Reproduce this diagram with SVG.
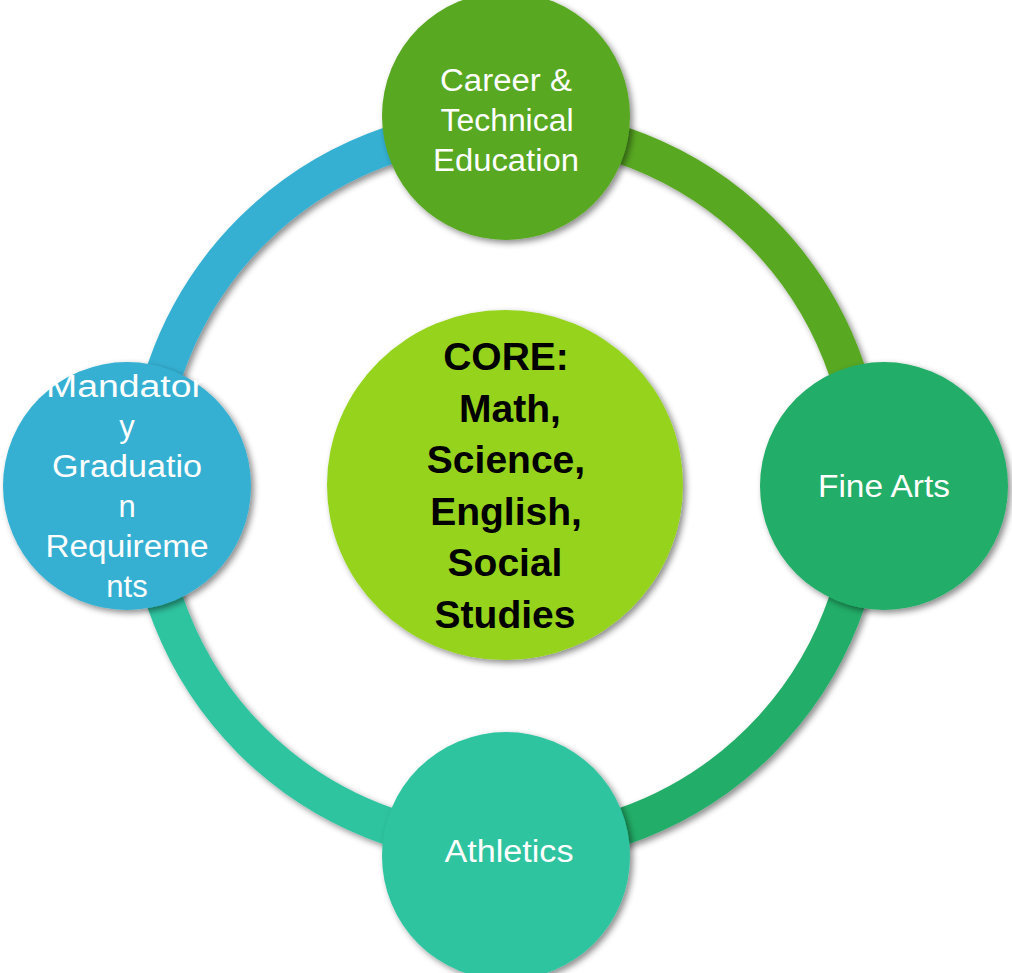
<svg xmlns="http://www.w3.org/2000/svg" width="1012" height="973" viewBox="0 0 1012 973">
<style>
.arc{fill:none;stroke-width:37;filter:url(#sh)}
.node{filter:url(#sh)}
.lbl{font-family:"Liberation Sans",Arial,sans-serif;font-size:31px;fill:#ffffff;text-anchor:middle}
.core{font-family:"Liberation Sans",Arial,sans-serif;font-size:39px;font-weight:bold;fill:#000000;text-anchor:middle}
</style>
<defs>
<filter id="sh" x="-20%" y="-20%" width="140%" height="140%">
<feDropShadow dx="3" dy="3" stdDeviation="3" flood-color="#000000" flood-opacity="0.45"/>
</filter>
</defs>
<rect width="1012" height="973" fill="#ffffff"/>
<g id="connectors">
<path class="arc" stroke="#59A823" d="M506 126 A360 360 0 0 1 866 486"/>
<path class="arc" stroke="#24AD68" d="M866 486 A360 360 0 0 1 506 846"/>
<path class="arc" stroke="#2EC4A0" d="M506 846 A360 360 0 0 1 146 486"/>
<path class="arc" stroke="#35B0D2" d="M146 486 A360 360 0 0 1 506 126"/>
</g>
<g id="node-core">
<ellipse class="node" cx="505" cy="485" rx="178" ry="175" fill="#95D31E"/>
<text class="core" x="506" y="370">CORE:</text>
<text class="core" x="510" y="421.5">Math,</text>
<text class="core" x="506" y="473">Science,</text>
<text class="core" x="506" y="524.5">English,</text>
<text class="core" x="505" y="576">Social</text>
<text class="core" x="505" y="627.5">Studies</text>
</g>
<g id="node-career">
<circle class="node" cx="506" cy="116" r="124" fill="#59A823"/>
<text class="lbl" x="506" y="91" textLength="132" lengthAdjust="spacingAndGlyphs">Career &amp;</text>
<text class="lbl" x="507" y="131" textLength="133" lengthAdjust="spacingAndGlyphs">Technical</text>
<text class="lbl" x="506" y="171" textLength="146" lengthAdjust="spacingAndGlyphs">Education</text>
</g>
<g id="node-finearts">
<circle class="node" cx="884" cy="486" r="124" fill="#24AD68"/>
<text class="lbl" x="884" y="497" textLength="132" lengthAdjust="spacingAndGlyphs">Fine Arts</text>
</g>
<g id="node-athletics">
<circle class="node" cx="506" cy="856" r="124" fill="#2EC4A0"/>
<text class="lbl" x="509" y="862" textLength="129" lengthAdjust="spacingAndGlyphs">Athletics</text>
</g>
<g id="node-mandatory">
<circle class="node" cx="127" cy="486" r="124" fill="#35B0D2"/>
<text class="lbl" x="125" y="397" textLength="158" lengthAdjust="spacingAndGlyphs">Mandator</text>
<text class="lbl" x="127" y="437">y</text>
<text class="lbl" x="127" y="477" textLength="150" lengthAdjust="spacingAndGlyphs">Graduatio</text>
<text class="lbl" x="127" y="517">n</text>
<text class="lbl" x="127" y="557" textLength="163" lengthAdjust="spacingAndGlyphs">Requireme</text>
<text class="lbl" x="127" y="597">nts</text>
</g>
</svg>
